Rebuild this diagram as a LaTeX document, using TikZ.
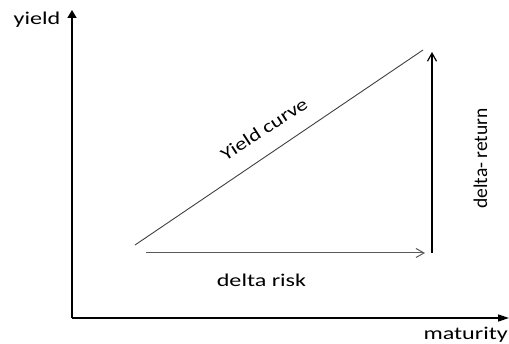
\documentclass[tikz,border=0pt]{standalone}
\usepackage{fontspec}
\setmainfont{Carlito}
\usepackage{graphicx}
\usetikzlibrary{arrows.meta}
\newcommand{\widetxt}[1]{\scalebox{1.34}[1]{#1}}

\begin{document}
\begin{tikzpicture}[
    x=1pt, y=-1pt,
    axis/.style={line width=1.6pt, black},
    lbl/.style={text=black, font=\fontsize{18}{18}\selectfont, inner sep=0pt},
    delta/.style={-{Straight Barb[length=8pt, width=9pt]}},
]
\useasboundingbox (0,0) rectangle (509,344);

% Axes
\coordinate (origin) at (72,318);
\coordinate (ytop) at (72,10);
\coordinate (xend) at (509,318);
\draw[axis, -{Triangle[length=8pt, width=9pt]}] (origin) -- (ytop);
\draw[axis, -{Triangle[length=11pt, width=7pt]}] (origin) -- (xend);

\node[lbl, anchor=base] (yld) at (37,25) {\widetxt{yield}};
\node[lbl, anchor=base east] (mat) at (508,340) {\widetxt{maturity}};

% Yield curve
\coordinate (ylow) at (135,245);
\coordinate (yhigh) at (423,50);
\draw[line width=0.9pt, black!75] (ylow) -- (yhigh);
\node[lbl, rotate=33] (ycv) at (264,129) {\scalebox{1.25}[1]{Yield curve}};

% Delta risk / delta return
\coordinate (rstart) at (146,253);
\coordinate (corner) at (432,253);
\coordinate (rtop) at (432,52);
\draw[delta, line width=1pt, black!65] (rstart) -- ([xshift=-7pt]corner);
\draw[delta, line width=1.2pt, black] (corner) -- (rtop);

\node[lbl, anchor=base] (drisk) at (261.5,287) {\widetxt{delta risk}};
\node[lbl, rotate=90, anchor=base, font=\fontsize{19.5}{19.5}\selectfont] (dret) at (487,158.5) {delta- return};
\end{tikzpicture}
\end{document}
